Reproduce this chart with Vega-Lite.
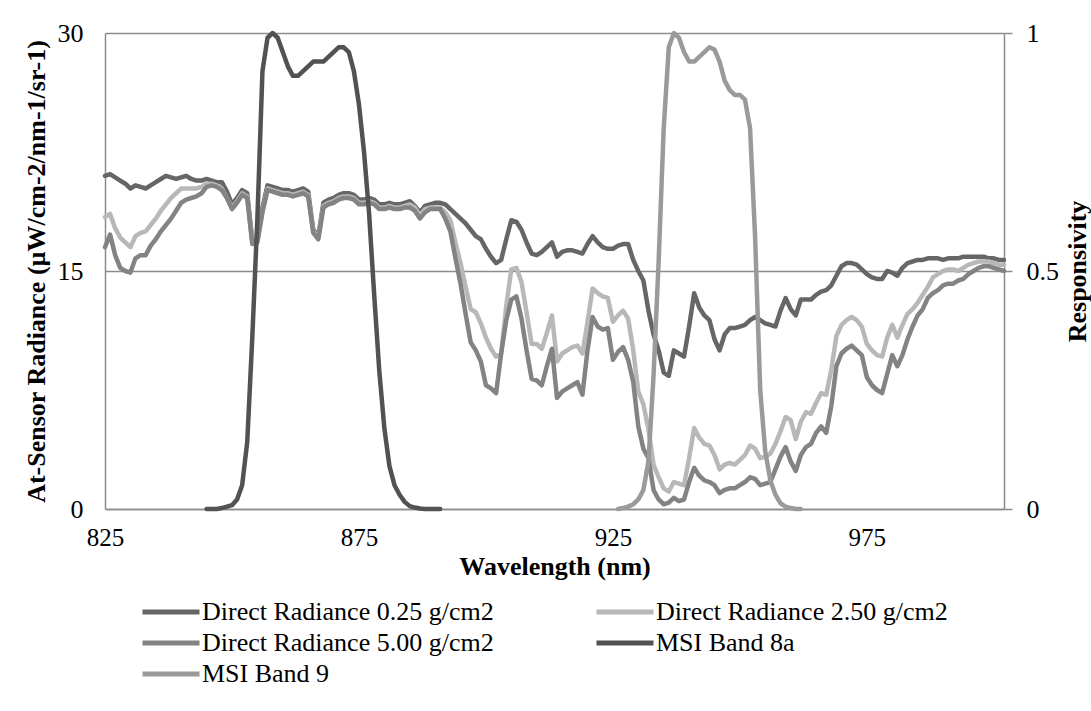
{
  "$schema": "https://vega.github.io/schema/vega-lite/v6.json",
  "width": 899,
  "height": 476,
  "autosize": {"type": "none"},
  "padding": {"left": 105, "top": 33, "right": 87, "bottom": 202},
  "background": "white",
  "config": {
    "view": {"stroke": null},
    "font": "Times New Roman, Liberation Serif, serif",
    "axis": {"labelFont": "Times New Roman, Liberation Serif, serif", "titleFont": "Times New Roman, Liberation Serif, serif", "labelColor": "black", "titleColor": "black"}
  },
  "datasets": {
    "radiance": [
      {"wl":825,"a":21.0,"b":18.4,"c":16.5},{"wl":826,"a":21.1,"b":18.6,"c":17.3},{"wl":827,"a":20.9,"b":17.7,"c":16.0},
      {"wl":828,"a":20.7,"b":17.1,"c":15.2},{"wl":829,"a":20.5,"b":16.8,"c":15.0},{"wl":830,"a":20.2,"b":16.5,"c":14.9},
      {"wl":831,"a":20.4,"b":17.2,"c":15.8},{"wl":832,"a":20.3,"b":17.4,"c":16.0},{"wl":833,"a":20.2,"b":17.5,"c":16.0},
      {"wl":834,"a":20.4,"b":17.9,"c":16.6},{"wl":835,"a":20.6,"b":18.3,"c":17.0},{"wl":836,"a":20.8,"b":18.8,"c":17.5},
      {"wl":837,"a":21.0,"b":19.2,"c":17.9},{"wl":838,"a":20.9,"b":19.6,"c":18.3},{"wl":839,"a":20.8,"b":19.9,"c":18.8},
      {"wl":840,"a":20.9,"b":20.2,"c":19.3},{"wl":841,"a":21.0,"b":20.2,"c":19.5},{"wl":842,"a":20.8,"b":20.2,"c":19.6},
      {"wl":843,"a":20.7,"b":20.2,"c":19.7},{"wl":844,"a":20.7,"b":20.3,"c":19.9},{"wl":845,"a":20.8,"b":20.5,"c":20.3},
      {"wl":846,"a":20.7,"b":20.5,"c":20.4},{"wl":847,"a":20.6,"b":20.4,"c":20.3},{"wl":848,"a":20.6,"b":20.2,"c":20.1},
      {"wl":849,"a":20.0,"b":19.6,"c":19.6},{"wl":850,"a":19.2,"b":19.0,"c":18.9},{"wl":851,"a":19.6,"b":19.4,"c":19.3},
      {"wl":852,"a":20.1,"b":19.9,"c":19.8},{"wl":853,"a":19.9,"b":19.7,"c":19.6},{"wl":854,"a":16.9,"b":16.8,"c":16.7},
      {"wl":855,"a":17.0,"b":16.9,"c":16.8},{"wl":856,"a":19.0,"b":18.8,"c":18.7},{"wl":857,"a":20.4,"b":20.2,"c":20.1},
      {"wl":858,"a":20.3,"b":20.1,"c":20.0},{"wl":859,"a":20.2,"b":20.0,"c":19.9},{"wl":860,"a":20.1,"b":19.9,"c":19.8},
      {"wl":861,"a":20.1,"b":19.9,"c":19.8},{"wl":862,"a":20.0,"b":19.8,"c":19.7},{"wl":863,"a":20.1,"b":19.9,"c":19.8},
      {"wl":864,"a":20.2,"b":20.0,"c":19.9},{"wl":865,"a":20.0,"b":19.8,"c":19.7},{"wl":866,"a":17.6,"b":17.5,"c":17.4},
      {"wl":867,"a":17.2,"b":17.1,"c":17.0},{"wl":868,"a":19.3,"b":19.1,"c":19.0},{"wl":869,"a":19.5,"b":19.3,"c":19.2},
      {"wl":870,"a":19.6,"b":19.4,"c":19.3},{"wl":871,"a":19.8,"b":19.6,"c":19.5},{"wl":872,"a":19.9,"b":19.7,"c":19.6},
      {"wl":873,"a":19.9,"b":19.7,"c":19.6},{"wl":874,"a":19.8,"b":19.6,"c":19.5},{"wl":875,"a":19.5,"b":19.3,"c":19.2},
      {"wl":876,"a":19.5,"b":19.3,"c":19.2},{"wl":877,"a":19.6,"b":19.4,"c":19.3},{"wl":878,"a":19.5,"b":19.3,"c":19.2},
      {"wl":879,"a":19.2,"b":19.0,"c":18.9},{"wl":880,"a":19.2,"b":19.0,"c":18.9},{"wl":881,"a":19.3,"b":19.1,"c":19.0},
      {"wl":882,"a":19.2,"b":19.0,"c":18.9},{"wl":883,"a":19.2,"b":19.0,"c":18.9},{"wl":884,"a":19.3,"b":19.1,"c":19.0},
      {"wl":885,"a":19.4,"b":19.2,"c":19.0},{"wl":886,"a":19.1,"b":19.0,"c":18.8},{"wl":887,"a":18.7,"b":18.5,"c":18.3},
      {"wl":888,"a":19.1,"b":18.9,"c":18.7},{"wl":889,"a":19.2,"b":19.0,"c":18.9},{"wl":890,"a":19.3,"b":19.0,"c":18.9},
      {"wl":891,"a":19.3,"b":19.0,"c":18.9},{"wl":892,"a":19.2,"b":18.7,"c":18.3},{"wl":893,"a":18.9,"b":18.2,"c":17.5},
      {"wl":894,"a":18.6,"b":16.8,"c":15.8},{"wl":895,"a":18.3,"b":15.5,"c":14.2},{"wl":896,"a":18.0,"b":14.0,"c":12.3},
      {"wl":897,"a":17.6,"b":12.6,"c":10.5},{"wl":898,"a":17.2,"b":12.4,"c":10.0},{"wl":899,"a":17.0,"b":11.7,"c":9.3},
      {"wl":900,"a":16.4,"b":10.8,"c":7.8},{"wl":901,"a":15.9,"b":10.1,"c":7.6},{"wl":902,"a":15.5,"b":9.6,"c":7.3},
      {"wl":903,"a":15.7,"b":9.8,"c":9.8},{"wl":904,"a":17.0,"b":12.8,"c":11.9},{"wl":905,"a":18.2,"b":15.1,"c":13.2},
      {"wl":906,"a":18.1,"b":15.2,"c":13.4},{"wl":907,"a":17.6,"b":14.3,"c":12.0},{"wl":908,"a":16.8,"b":12.4,"c":10.0},
      {"wl":909,"a":16.1,"b":10.4,"c":8.2},{"wl":910,"a":16.0,"b":10.4,"c":8.1},{"wl":911,"a":16.2,"b":10.1,"c":7.8},
      {"wl":912,"a":16.5,"b":11.1,"c":9.0},{"wl":913,"a":16.8,"b":12.2,"c":10.1},{"wl":914,"a":15.9,"b":9.3,"c":7.0},
      {"wl":915,"a":16.2,"b":9.8,"c":7.4},{"wl":916,"a":16.3,"b":10.0,"c":7.6},{"wl":917,"a":16.3,"b":10.2,"c":7.8},
      {"wl":918,"a":16.2,"b":10.3,"c":8.0},{"wl":919,"a":16.1,"b":9.8,"c":7.2},{"wl":920,"a":16.7,"b":11.8,"c":10.0},
      {"wl":921,"a":17.2,"b":13.9,"c":12.1},{"wl":922,"a":16.8,"b":13.6,"c":11.5},{"wl":923,"a":16.5,"b":13.4,"c":11.3},
      {"wl":924,"a":16.4,"b":13.3,"c":11.4},{"wl":925,"a":16.4,"b":11.8,"c":9.4},{"wl":926,"a":16.6,"b":12.2,"c":9.9},
      {"wl":927,"a":16.7,"b":12.5,"c":10.2},{"wl":928,"a":16.7,"b":12.0,"c":9.4},{"wl":929,"a":15.7,"b":10.0,"c":8.0},
      {"wl":930,"a":15.0,"b":7.4,"c":5.2},{"wl":931,"a":14.4,"b":6.6,"c":3.8},{"wl":932,"a":12.5,"b":5.0,"c":3.2},
      {"wl":933,"a":11.0,"b":2.8,"c":1.2},{"wl":934,"a":10.0,"b":2.0,"c":0.6},{"wl":935,"a":8.6,"b":1.3,"c":0.3},
      {"wl":936,"a":8.4,"b":1.1,"c":0.4},{"wl":937,"a":10.0,"b":1.7,"c":0.7},{"wl":938,"a":9.8,"b":1.6,"c":0.5},
      {"wl":939,"a":9.6,"b":1.5,"c":0.6},{"wl":940,"a":11.5,"b":3.2,"c":1.7},{"wl":941,"a":13.6,"b":5.1,"c":2.6},
      {"wl":942,"a":12.7,"b":4.5,"c":2.1},{"wl":943,"a":12.2,"b":4.1,"c":1.8},{"wl":944,"a":11.9,"b":4.0,"c":1.7},
      {"wl":945,"a":10.7,"b":3.4,"c":1.5},{"wl":946,"a":10.0,"b":2.5,"c":1.0},{"wl":947,"a":11.0,"b":2.8,"c":1.2},
      {"wl":948,"a":11.4,"b":2.9,"c":1.3},{"wl":949,"a":11.4,"b":2.8,"c":1.3},{"wl":950,"a":11.5,"b":3.1,"c":1.5},
      {"wl":951,"a":11.6,"b":3.4,"c":1.7},{"wl":952,"a":11.9,"b":4.0,"c":2.0},{"wl":953,"a":12.1,"b":3.8,"c":1.9},
      {"wl":954,"a":11.9,"b":3.2,"c":1.5},{"wl":955,"a":11.7,"b":3.3,"c":1.6},{"wl":956,"a":11.6,"b":3.5,"c":1.7},
      {"wl":957,"a":11.5,"b":4.1,"c":2.5},{"wl":958,"a":12.5,"b":4.9,"c":3.3},{"wl":959,"a":13.3,"b":5.8,"c":3.9},
      {"wl":960,"a":12.6,"b":5.6,"c":3.0},{"wl":961,"a":12.2,"b":4.4,"c":2.4},{"wl":962,"a":13.2,"b":5.5,"c":3.4},
      {"wl":963,"a":13.2,"b":6.1,"c":3.9},{"wl":964,"a":13.2,"b":6.0,"c":4.1},{"wl":965,"a":13.5,"b":6.7,"c":4.8},
      {"wl":966,"a":13.7,"b":7.3,"c":5.2},{"wl":967,"a":13.8,"b":7.2,"c":4.8},{"wl":968,"a":14.1,"b":8.8,"c":6.5},
      {"wl":969,"a":14.7,"b":10.9,"c":9.0},{"wl":970,"a":15.3,"b":11.6,"c":9.8},{"wl":971,"a":15.5,"b":11.9,"c":10.1},
      {"wl":972,"a":15.5,"b":12.1,"c":10.3},{"wl":973,"a":15.4,"b":11.9,"c":10.0},{"wl":974,"a":15.1,"b":11.5,"c":9.7},
      {"wl":975,"a":14.8,"b":10.4,"c":8.3},{"wl":976,"a":14.6,"b":10.0,"c":7.8},{"wl":977,"a":14.5,"b":9.7,"c":7.5},
      {"wl":978,"a":14.5,"b":9.6,"c":7.3},{"wl":979,"a":15.0,"b":10.8,"c":8.5},{"wl":980,"a":14.9,"b":11.6,"c":9.7},
      {"wl":981,"a":14.7,"b":10.8,"c":9.0},{"wl":982,"a":15.2,"b":11.6,"c":9.7},{"wl":983,"a":15.5,"b":12.3,"c":10.7},
      {"wl":984,"a":15.6,"b":12.6,"c":11.5},{"wl":985,"a":15.7,"b":13.0,"c":12.2},{"wl":986,"a":15.7,"b":13.5,"c":12.6},
      {"wl":987,"a":15.8,"b":14.0,"c":13.3},{"wl":988,"a":15.8,"b":14.6,"c":13.6},{"wl":989,"a":15.8,"b":14.8,"c":13.8},
      {"wl":990,"a":15.7,"b":15.0,"c":14.1},{"wl":991,"a":15.8,"b":15.1,"c":14.2},{"wl":992,"a":15.8,"b":15.1,"c":14.2},
      {"wl":993,"a":15.8,"b":15.0,"c":14.4},{"wl":994,"a":15.9,"b":15.2,"c":14.5},{"wl":995,"a":15.9,"b":15.4,"c":14.8},
      {"wl":996,"a":15.9,"b":15.5,"c":15.0},{"wl":997,"a":15.9,"b":15.6,"c":15.2},{"wl":998,"a":15.9,"b":15.6,"c":15.3},
      {"wl":999,"a":15.8,"b":15.6,"c":15.3},{"wl":1000,"a":15.8,"b":15.5,"c":15.2},{"wl":1001,"a":15.7,"b":15.4,"c":15.1},
      {"wl":1002,"a":15.7,"b":15.4,"c":15.0}
    ],
    "bands": [
      {"wl":845,"series":"m8","resp":0},{"wl":846,"series":"m8","resp":0},{"wl":847,"series":"m8","resp":0},
      {"wl":848,"series":"m8","resp":0.002},{"wl":849,"series":"m8","resp":0.005},{"wl":850,"series":"m8","resp":0.008},
      {"wl":851,"series":"m8","resp":0.02},{"wl":852,"series":"m8","resp":0.05},{"wl":853,"series":"m8","resp":0.14},
      {"wl":854,"series":"m8","resp":0.36},{"wl":855,"series":"m8","resp":0.61},{"wl":856,"series":"m8","resp":0.92},
      {"wl":857,"series":"m8","resp":0.99},{"wl":858,"series":"m8","resp":1.0},{"wl":859,"series":"m8","resp":0.99},
      {"wl":860,"series":"m8","resp":0.96},{"wl":861,"series":"m8","resp":0.93},{"wl":862,"series":"m8","resp":0.91},
      {"wl":863,"series":"m8","resp":0.91},{"wl":864,"series":"m8","resp":0.92},{"wl":865,"series":"m8","resp":0.93},
      {"wl":866,"series":"m8","resp":0.94},{"wl":867,"series":"m8","resp":0.94},{"wl":868,"series":"m8","resp":0.94},
      {"wl":869,"series":"m8","resp":0.95},{"wl":870,"series":"m8","resp":0.96},{"wl":871,"series":"m8","resp":0.97},
      {"wl":872,"series":"m8","resp":0.97},{"wl":873,"series":"m8","resp":0.96},{"wl":874,"series":"m8","resp":0.92},
      {"wl":875,"series":"m8","resp":0.85},{"wl":876,"series":"m8","resp":0.75},{"wl":877,"series":"m8","resp":0.62},
      {"wl":878,"series":"m8","resp":0.45},{"wl":879,"series":"m8","resp":0.29},{"wl":880,"series":"m8","resp":0.17},
      {"wl":881,"series":"m8","resp":0.09},{"wl":882,"series":"m8","resp":0.05},{"wl":883,"series":"m8","resp":0.03},
      {"wl":884,"series":"m8","resp":0.015},{"wl":885,"series":"m8","resp":0.006},{"wl":886,"series":"m8","resp":0.003},
      {"wl":887,"series":"m8","resp":0.001},{"wl":888,"series":"m8","resp":0},{"wl":889,"series":"m8","resp":0},
      {"wl":890,"series":"m8","resp":0},{"wl":891,"series":"m8","resp":0},
      {"wl":926,"series":"m9","resp":0},{"wl":927,"series":"m9","resp":0.002},{"wl":928,"series":"m9","resp":0.005},
      {"wl":929,"series":"m9","resp":0.01},{"wl":930,"series":"m9","resp":0.02},{"wl":931,"series":"m9","resp":0.04},
      {"wl":932,"series":"m9","resp":0.1},{"wl":933,"series":"m9","resp":0.28},{"wl":934,"series":"m9","resp":0.52},
      {"wl":935,"series":"m9","resp":0.8},{"wl":936,"series":"m9","resp":0.97},{"wl":937,"series":"m9","resp":1.0},
      {"wl":938,"series":"m9","resp":0.99},{"wl":939,"series":"m9","resp":0.96},{"wl":940,"series":"m9","resp":0.94},
      {"wl":941,"series":"m9","resp":0.94},{"wl":942,"series":"m9","resp":0.95},{"wl":943,"series":"m9","resp":0.96},
      {"wl":944,"series":"m9","resp":0.97},{"wl":945,"series":"m9","resp":0.965},{"wl":946,"series":"m9","resp":0.94},
      {"wl":947,"series":"m9","resp":0.9},{"wl":948,"series":"m9","resp":0.88},{"wl":949,"series":"m9","resp":0.87},
      {"wl":950,"series":"m9","resp":0.87},{"wl":951,"series":"m9","resp":0.86},{"wl":952,"series":"m9","resp":0.8},
      {"wl":953,"series":"m9","resp":0.57},{"wl":954,"series":"m9","resp":0.25},{"wl":955,"series":"m9","resp":0.12},
      {"wl":956,"series":"m9","resp":0.06},{"wl":957,"series":"m9","resp":0.03},{"wl":958,"series":"m9","resp":0.012},
      {"wl":959,"series":"m9","resp":0.005},{"wl":960,"series":"m9","resp":0.002},{"wl":961,"series":"m9","resp":0},
      {"wl":962,"series":"m9","resp":0}
    ]
  },
  "layer": [
    {
      "data": {"name": "radiance"},
      "transform": [{"fold": ["a", "b", "c"], "as": ["series", "value"]}],
      "mark": {"type": "line", "strokeWidth": 4.5, "strokeJoin": "round", "strokeCap": "round"},
      "encoding": {
        "x": {
          "field": "wl", "type": "quantitative",
          "scale": {"domain": [825, 1002], "nice": false, "zero": false},
          "axis": {
            "values": [825, 875, 925, 975], "grid": false, "ticks": false,
            "domainColor": "#8c8c8c", "domainWidth": 1.5,
            "labelFontSize": 25, "labelPadding": 16, "labelFlush": false, "labelOverlap": false,
            "title": "Wavelength (nm)", "titleFontSize": 26, "titleFontWeight": "bold", "titlePadding": 3
          }
        },
        "y": {
          "field": "value", "type": "quantitative",
          "scale": {"domain": [0, 30], "nice": false},
          "axis": {
            "values": [0, 15, 30], "grid": true, "gridColor": "#8c8c8c", "gridWidth": 1.5,
            "ticks": false, "domainColor": "#8c8c8c", "domainWidth": 1.5,
            "labelFontSize": 26, "labelPadding": 22,
            "title": "At-Sensor Radiance (µW/cm-2/nm-1/sr-1)", "titleFontSize": 26, "titleFontWeight": "bold", "titlePadding": 8
          }
        },
        "color": {
          "field": "series", "type": "nominal",
          "scale": {"domain": ["a", "b", "c", "m8", "m9"], "range": ["#666666", "#b8b8b8", "#838383", "#525252", "#9a9a9a"]},
          "legend": {
            "orient": "none", "legendX": 53, "legendY": 566, "columns": 2, "direction": "horizontal", "title": null,
            "symbolType": "M-3,0H3", "symbolSize": 361, "symbolStrokeWidth": 5,
            "labelFont": "Times New Roman, Liberation Serif, serif", "labelFontSize": 26, "labelColor": "black",
            "labelOffset": 18, "labelLimit": 0,
            "columnPadding": 92, "rowPadding": 5,
            "labelExpr": "datum.value == 'a' ? 'Direct Radiance 0.25 g/cm2' : datum.value == 'b' ? 'Direct Radiance 2.50 g/cm2' : datum.value == 'c' ? 'Direct Radiance 5.00 g/cm2' : datum.value == 'm8' ? 'MSI Band 8a' : 'MSI Band 9'"
          }
        }
      }
    },
    {
      "data": {"name": "bands"},
      "mark": {"type": "line", "strokeWidth": 4.5, "strokeJoin": "round", "strokeCap": "round"},
      "encoding": {
        "x": {"field": "wl", "type": "quantitative"},
        "y": {
          "field": "resp", "type": "quantitative",
          "scale": {"domain": [0, 1], "nice": false},
          "axis": {
            "orient": "right", "values": [0, 0.5, 1], "format": "~g", "grid": false,
            "ticks": true, "tickSize": 8, "tickColor": "#8c8c8c", "tickWidth": 1.5,
            "domainColor": "#8c8c8c", "domainWidth": 1.5,
            "labelFontSize": 26, "labelPadding": 14,
            "title": "Responsivity", "titleFontSize": 26, "titleFontWeight": "bold",
            "titleAngle": 270, "titleBaseline": "top", "titlePadding": 6
          }
        },
        "color": {"field": "series", "type": "nominal"}
      }
    }
  ],
  "resolve": {"scale": {"y": "independent"}}
}
